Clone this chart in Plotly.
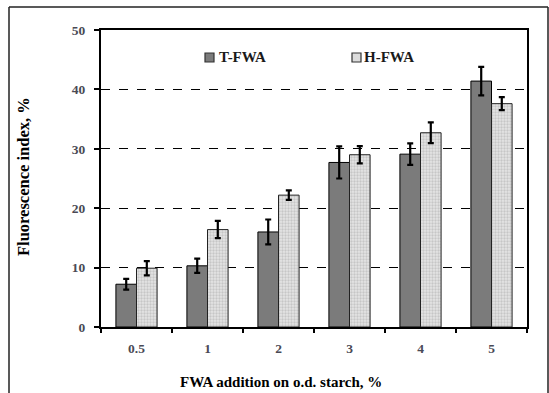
import plotly.graph_objects as go

categories = ["0.5", "1", "2", "3", "4", "5"]
t_fwa = [7.2, 10.3, 16.0, 27.7, 29.1, 41.4]
t_err = [0.9, 1.2, 2.1, 2.7, 1.8, 2.4]
h_fwa = [9.9, 16.4, 22.2, 29.0, 32.7, 37.6]
h_err = [1.2, 1.45, 0.8, 1.45, 1.75, 1.1]
series_names = ["T-FWA", "H-FWA"]

W, H = 549, 393
L, R, T, B = 101, 22, 30, 66
pw, ph = W - L - R, H - T - B

def px_x(p):
    return (p - L) / pw

def px_y(p):
    return (H - B - p) / ph

serif = "Liberation Serif"
dark = "#7b7b7b"
light = "#dcdcdc"

fig = go.Figure()
fig.add_trace(go.Bar(
    name=series_names[0], x=categories, y=t_fwa, showlegend=False,
    marker=dict(color=dark, line=dict(color="black", width=1)),
    error_y=dict(type="data", array=t_err, color="black", thickness=2.2, width=3),
))
fig.add_trace(go.Bar(
    name=series_names[1], x=categories, y=h_fwa, showlegend=False,
    marker=dict(color=light, line=dict(color="#222", width=1),
                pattern=dict(shape=".", fgcolor="#a8a8a8", bgcolor="#e4e4e4", size=3, solidity=0.45)),
    error_y=dict(type="data", array=h_err, color="black", thickness=2.2, width=3),
))

fig.update_layout(
    width=W, height=H,
    margin=dict(l=L, r=R, t=T, b=B),
    paper_bgcolor="white", plot_bgcolor="white",
    barmode="group", bargap=0.42, bargroupgap=0,
    font=dict(family=serif, color="black"),
    showlegend=False,
    xaxis=dict(
        showline=True, linecolor="black", linewidth=2, mirror=True,
        ticks="outside", tickson="boundaries", ticklen=4, tickwidth=2, tickcolor="black",
        ticklabelstandoff=8,
        tickfont=dict(family=serif, size=13.5, color="#4a4a55", weight="bold"),
    ),
    yaxis=dict(
        range=[0, 50], dtick=10,
        showline=True, linecolor="black", linewidth=2, mirror=True,
        ticks="outside", ticklen=5, tickwidth=2, tickcolor="black",
        ticklabelstandoff=6,
        showgrid=True, gridcolor="black", gridwidth=1, griddash="dash",
        zeroline=False,
        tickfont=dict(family=serif, size=13.5, color="#4a4a55", weight="bold"),
    ),
)

# axis titles
fig.add_annotation(text="<b>FWA addition on o.d. starch, %</b>", xref="paper", yref="paper",
                   x=px_x(281), y=px_y(382), showarrow=False, xanchor="center", yanchor="middle",
                   font=dict(family=serif, size=15, color="black"))
fig.add_annotation(text="<b>Fluorescence index, %</b>", xref="paper", yref="paper",
                   x=px_x(23), y=px_y(177), showarrow=False, xanchor="center", yanchor="middle",
                   textangle=-90, font=dict(family=serif, size=16.5, color="black"))

# legend (manual)
legend_items = [(series_names[0], dark, 205, 217), (series_names[1], light, 352, 362)]
for name, col, sx, tx in legend_items:
    fig.add_shape(type="rect", xref="paper", yref="paper",
                  x0=px_x(sx), x1=px_x(sx + 9), y0=px_y(62), y1=px_y(53),
                  fillcolor=col, line=dict(color="#333", width=1.2))
    fig.add_annotation(text="<b>" + name + "</b>", xref="paper", yref="paper",
                       x=px_x(tx), y=px_y(57.5), showarrow=False, xanchor="left", yanchor="middle",
                       font=dict(family=serif, size=15, color="#1a1a1a"))

# outer frame around the figure (left, top, right edges)
for x0, y0, x1, y1 in [(9, 7, 9, 400), (9, 7, 548, 7), (548, 7, 548, 400)]:
    fig.add_shape(type="line", xref="paper", yref="paper",
                  x0=px_x(x0), y0=px_y(y0), x1=px_x(x1), y1=px_y(y1),
                  line=dict(color="#222", width=1.5), layer="above")

fig.write_html("out.html")
